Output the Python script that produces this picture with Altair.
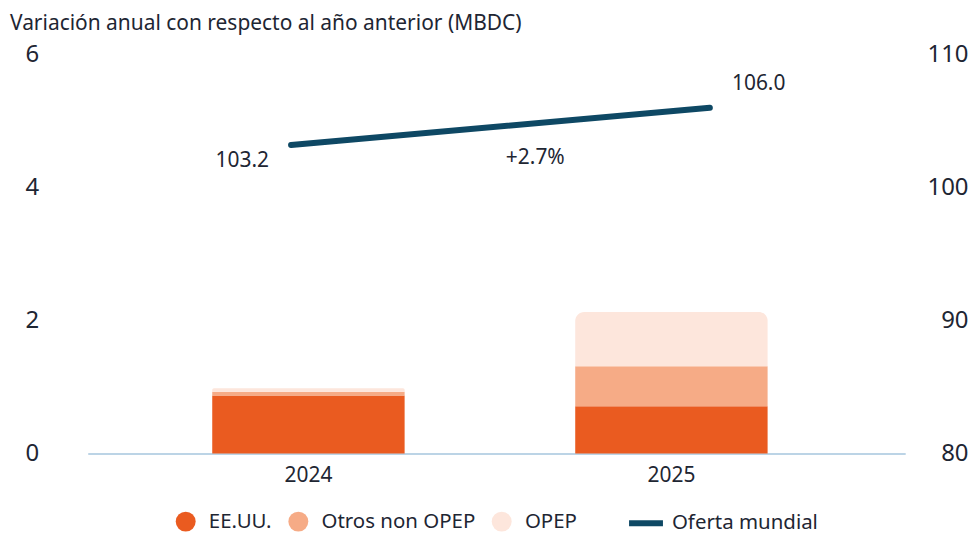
import altair as alt
import pandas as pd

years = ["2024", "2025"]
series = ["EE.UU.", "Otros non OPEP", "OPEP"]
eeuu = [0.87, 0.71]
otros = [0.06, 0.60]
opep = [0.05, 0.82]
oferta = [103.2, 106.0]
oferta_name = "Oferta mundial"
cambio = "+2.7%"

colors = ["#EA5B20", "#F6AB86", "#FDE6DC"]
line_color = "#0E4864"
text_color = "#1E2633"
FONT = "Noto Sans"

rows = []
for i, y in enumerate(years):
    for k, (s, vals) in enumerate(zip(series, [eeuu, otros, opep])):
        rows.append({"year": y, "series": s, "order": k, "value": vals[i]})
bars_df = pd.DataFrame(rows)
line_df = pd.DataFrame({"year": years, "value": oferta, "name": oferta_name})

x_bar = alt.X("year:N", title=None,
              scale=alt.Scale(domain=years, paddingInner=0.47, paddingOuter=0.361, align=0.475),
              axis=alt.Axis(labelAngle=0, labelFontSize=21, labelColor=text_color, labelFont=FONT,
                            domainColor="#BCD4E6", domainWidth=2, ticks=False, labelPadding=11))
y_bar = alt.Y("y0:Q", title=None,
              scale=alt.Scale(domain=[0, 6], nice=False),
              axis=alt.Axis(values=[0, 2, 4, 6], grid=False, domain=False, ticks=False,
                            labelAlign="left", labelPadding=63, labelFontSize=24,
                            labelColor=text_color, labelFont=FONT, orient="left"))
color_enc = alt.Color("series:N", scale=alt.Scale(domain=series, range=colors),
                      legend=alt.Legend(title=None, orient="none", legendX=88, legendY=458,
                                        direction="horizontal", symbolType="circle",
                                        symbolSize=400, symbolStrokeWidth=0, labelFontSize=20.5,
                                        labelFont=FONT, labelColor=text_color, columnPadding=16,
                                        symbolOpacity=1, labelOffset=13, padding=0))

base_bars = alt.Chart(bars_df).transform_stack(
    stack="value", groupby=["year"], as_=["y0", "y1"],
    sort=[alt.SortField("order", order="ascending")]
)
bars_low = base_bars.transform_filter(alt.datum.series != "OPEP").mark_bar().encode(
    x=x_bar, y=y_bar, y2="y1:Q", color=color_enc)
bars_top = base_bars.transform_filter(alt.datum.series == "OPEP").mark_bar(
    cornerRadiusTopLeft=9, cornerRadiusTopRight=9).encode(
    x=x_bar, y=y_bar, y2="y1:Q", color=color_enc)
bars_layer = alt.layer(bars_low, bars_top)

x_line = alt.X("year:N", title=None,
               scale=alt.Scale(type="point", domain=years, padding=0.476, align=0.51),
               axis=None)
y_line = alt.Y("value:Q", title=None,
               scale=alt.Scale(domain=[80, 110], nice=False),
               axis=alt.Axis(values=[80, 90, 100, 110], grid=False, domain=False, ticks=False,
                             orient="right", labelAlign="right", labelPadding=63,
                             labelFontSize=24, labelColor=text_color, labelFont=FONT))
line = alt.Chart(line_df).mark_line(strokeWidth=6, strokeCap="round").encode(
    x=x_line, y=y_line,
    stroke=alt.Stroke("name:N", scale=alt.Scale(range=[line_color]),
                      legend=alt.Legend(title=None, orient="none", legendX=540, legendY=450,
                                        symbolType="M-1,0H1", symbolSize=1156,
                                        symbolStrokeWidth=6, labelFontSize=20.5, labelFont=FONT,
                                        labelColor=text_color, labelOffset=6, padding=0)))
lbl_first = alt.Chart(line_df).transform_filter(alt.datum.year == years[0]).mark_text(
    dx=-49, dy=16, fontSize=21, font=FONT, color=text_color).encode(
    x=x_line, y=y_line, text=alt.Text("value:Q", format=".1f"))
lbl_last = alt.Chart(line_df).transform_filter(alt.datum.year == years[1]).mark_text(
    dx=49, dy=-24, fontSize=21, font=FONT, color=text_color).encode(
    x=x_line, y=y_line, text=alt.Text("value:Q", format=".1f"))
lbl_change = alt.Chart(line_df).transform_filter(alt.datum.year == years[0]).mark_text(
    dx=245, dy=13, fontSize=21, font=FONT, color=text_color).encode(
    x=x_line, y=y_line, text=alt.value(cambio))
line_layer = alt.layer(line, lbl_first, lbl_last, lbl_change)

chart = alt.layer(bars_layer, line_layer).resolve_scale(
    x="independent", y="independent", color="independent", stroke="independent"
).properties(
    width=820, height=400,
    title=alt.TitleParams("Variación anual con respecto al año anterior (MBDC)",
                          anchor="start", frame="bounds", fontSize=21, font=FONT,
                          fontWeight="normal", color=text_color, dx=-15, offset=9),
    padding={"left": 2, "right": 0, "top": 4, "bottom": 0},
).configure_view(stroke=None)

chart.save("out.html", embed_options={"renderer": "svg", "actions": False})
